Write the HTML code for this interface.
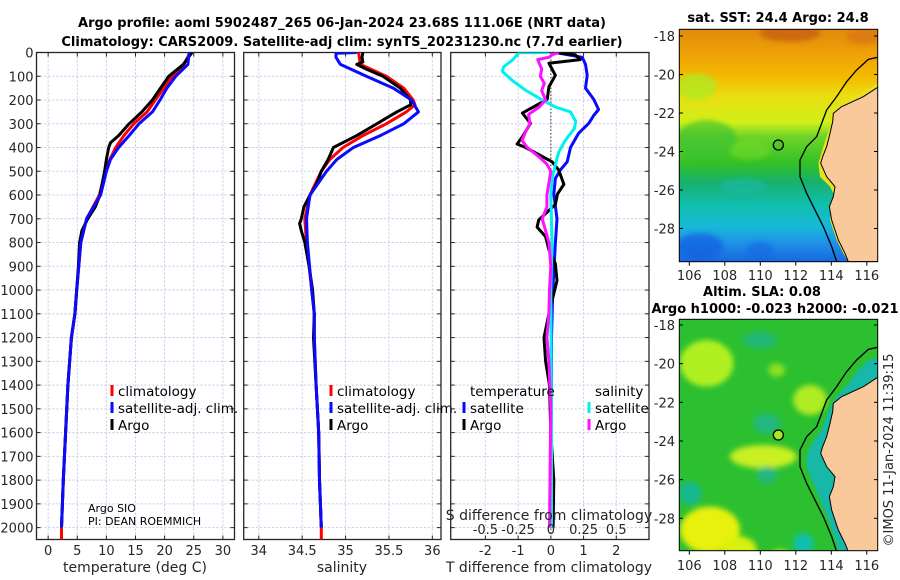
<!DOCTYPE html>
<html><head><meta charset="utf-8"><style>
html,body{margin:0;padding:0;background:#fff;}
svg{display:block;font-family:"DejaVu Sans","Liberation Sans",sans-serif;}
.tk{font-size:13px;fill:#262626;}
.ttl{font-size:13px;font-weight:bold;fill:#000;}
.lg{font-size:13.5px;fill:#000;}
</style></head><body>
<svg id="fig" width="900" height="580" viewBox="0 0 900 580">
<defs>
<clipPath id="c1"><rect x="36.5" y="52.5" width="198" height="487"/></clipPath>
<clipPath id="c2"><rect x="243.7" y="52.5" width="197.3" height="487"/></clipPath>
<clipPath id="c3"><rect x="450.7" y="52.5" width="198.3" height="487"/></clipPath>
<clipPath id="cm1"><rect x="679.3" y="29.3" width="198.4" height="232.4"/></clipPath>
<clipPath id="cm2"><rect x="679.3" y="319.3" width="198.4" height="231.4"/></clipPath>
<linearGradient id="sstg" x1="0" y1="0" x2="0" y2="1">
<stop offset="0" stop-color="#e08a0c"/><stop offset="0.1" stop-color="#eea008"/>
<stop offset="0.2" stop-color="#f4b800"/><stop offset="0.28" stop-color="#ecdc10"/>
<stop offset="0.4" stop-color="#d0f018"/><stop offset="0.46" stop-color="#70d428"/>
<stop offset="0.58" stop-color="#30c028"/><stop offset="0.66" stop-color="#18b070"/>
<stop offset="0.76" stop-color="#10c0b0"/><stop offset="0.85" stop-color="#18b8d8"/>
<stop offset="0.92" stop-color="#2090e8"/><stop offset="1" stop-color="#1868e0"/>
</linearGradient>
<filter id="blur"><feGaussianBlur stdDeviation="8"/></filter>
<filter id="blur2"><feGaussianBlur stdDeviation="6"/></filter>
</defs>

<text class="ttl" x="342" y="27" text-anchor="middle">Argo profile: aoml 5902487_265 06-Jan-2024 23.68S 111.06E (NRT data)</text>
<text class="ttl" x="342" y="46" text-anchor="middle">Climatology: CARS2009. Satellite-adj clim: synTS_20231230.nc (7.7d earlier)</text>

<g id="p1"></g>
<g id="p2"></g>
<g id="p3"></g>

<!-- Top map SST -->
<g>
<text class="ttl" x="778" y="22" text-anchor="middle">sat. SST: 24.4 Argo: 24.8</text>
<g clip-path="url(#cm1)">
<rect x="679.3" y="29.3" width="198.4" height="232.4" fill="url(#sstg)"/>
<g filter="url(#blur2)" transform="translate(650,0) scale(0.33333)">
<ellipse cx="420" cy="100" rx="90" ry="25" fill="#c86010" opacity="0.8"/>
<ellipse cx="640" cy="110" rx="50" ry="25" fill="#d87010" opacity="0.6"/>
<ellipse cx="140" cy="260" rx="60" ry="40" fill="#b0e820" opacity="0.8"/>
<ellipse cx="170" cy="420" rx="90" ry="60" fill="#38c030" opacity="0.6"/>
<ellipse cx="300" cy="450" rx="60" ry="30" fill="#70d828" opacity="0.6"/>
<ellipse cx="280" cy="560" rx="70" ry="25" fill="#18b8a0" opacity="0.7"/>
<ellipse cx="150" cy="740" rx="70" ry="40" fill="#1060e0" opacity="0.7"/>
<ellipse cx="330" cy="750" rx="40" ry="25" fill="#1068e0" opacity="0.6"/>
</g>
<g transform="translate(650,0) scale(0.33333)">
<path d="M683,250 L640,275 L590,300 L560,320 L545,345 L540,380 L520,440 L505,490 L510,530 L540,560 L555,590 L545,620 L540,660 L560,720 L580,760 L595,785 L700,785 L700,250 Z" fill="#e8e020"/>
<path d="M683,262 L640,290 L575,320 L550,340 L548,365 L540,400 L530,440 L518,470 L512,490 L530,530 L555,560 L550,590 L538,620 L545,660 L565,720 L585,760 L595,785 L700,785 L700,262 Z" fill="#f9c89b" stroke="#000" stroke-width="3"/>
<path d="M683,172 L655,178 L620,210 L590,245 L560,290 L530,330 L515,370 L500,410 L470,440 L450,480 L450,530 L470,580 L490,620 L520,680 L545,740 L560,785" fill="none" stroke="#000" stroke-width="4"/>
<circle cx="385" cy="435" r="15" fill="#50c828" stroke="#000" stroke-width="4"/>
</g>
</g>
<rect x="679.3" y="29.3" width="198.4" height="232.4" fill="none" stroke="#000" stroke-width="1"/>
<g id="m1ticks"></g>
</g>

<!-- Bottom map SLA -->
<g>
<text class="ttl" x="762" y="296" text-anchor="middle">Altim. SLA: 0.08</text>
<text class="ttl" x="775" y="313" text-anchor="middle">Argo h1000: -0.023 h2000: -0.021</text>
<g clip-path="url(#cm2)">
<rect x="679.3" y="319.3" width="198.4" height="231.4" fill="#2cc030"/>
<g filter="url(#blur)" transform="translate(650,290) scale(0.33333)">
<ellipse cx="170" cy="220" rx="80" ry="70" fill="#b0f020"/>
<ellipse cx="380" cy="240" rx="25" ry="20" fill="#90e020"/>
<ellipse cx="480" cy="330" rx="50" ry="45" fill="#b0ec20"/>
<ellipse cx="340" cy="500" rx="100" ry="35" fill="#c8f020"/>
<ellipse cx="180" cy="720" rx="90" ry="70" fill="#e8f010"/>
<ellipse cx="270" cy="780" rx="50" ry="40" fill="#d8f010"/>
<ellipse cx="390" cy="800" rx="30" ry="20" fill="#c8f020"/>
<ellipse cx="350" cy="400" rx="40" ry="30" fill="#20b880"/>
<ellipse cx="120" cy="610" rx="35" ry="35" fill="#18b890"/>
<ellipse cx="350" cy="555" rx="30" ry="25" fill="#20b880"/>
<ellipse cx="460" cy="760" rx="30" ry="30" fill="#10c0b0"/>
<ellipse cx="330" cy="150" rx="50" ry="25" fill="#20b878"/>
</g>
<g transform="translate(650,290) scale(0.33333)">
<path d="M683,205 L655,210 L625,240 L600,275 L570,310 L545,340 L530,380 L515,420 L490,455 L472,490 L470,530 L488,575 L505,615 L530,675 L552,735 L568,785 L700,785 L700,205 Z" fill="#18b8a8"/>
<path d="M683,262 L640,290 L575,320 L550,340 L548,365 L540,400 L530,440 L518,470 L512,490 L530,530 L555,560 L550,590 L538,620 L545,660 L565,720 L585,760 L595,785 L700,785 L700,262 Z" fill="#f9c89b" stroke="#000" stroke-width="3"/>
<path d="M683,172 L655,178 L620,210 L590,245 L560,290 L530,330 L515,370 L500,410 L470,440 L450,480 L450,530 L470,580 L490,620 L520,680 L545,740 L560,785" fill="none" stroke="#000" stroke-width="4"/>
<circle cx="385" cy="435" r="15" fill="#a8e820" stroke="#000" stroke-width="4"/>
</g>
</g>
<rect x="679.3" y="319.3" width="198.4" height="231.4" fill="none" stroke="#000" stroke-width="1"/>
<g id="m2ticks"></g>
</g>
<text class="tk" transform="translate(893,450) rotate(-90)" text-anchor="middle" style="font-size:13px">©IMOS 11-Jan-2024 11:39:15</text>

<text style="font-size:11px" x="88" y="512">Argo SIO</text>
<text style="font-size:11px" x="88" y="525">PI: DEAN ROEMMICH</text>
</svg>
<script>
// ---- Temperature panel data ----
const argoTDepth=[0,50,100,150,200,250,300,350,380,400,450,500,600,650,700,750,800,900,1000,1100,1200,1400,1600,1800,2000];
const argoT=[24.7,23.2,20.7,19.3,17.9,16.1,13.9,12.1,10.7,10.4,10.0,9.7,8.9,8.1,6.8,5.8,5.4,5.2,4.9,4.6,4.0,3.4,3.0,2.6,2.3];
const climTDepth=[0,50,100,200,250,300,350,400,450,500,600,700,800,1000,1100,1200,1400,1600,1800,2000,2050];
const climT=[24.4,23.3,21.3,18.4,17.0,14.7,13.0,11.6,10.6,9.8,8.8,6.6,5.6,4.9,4.6,4.0,3.4,3.0,2.6,2.3,2.3];
const satTDepth=[0,50,100,150,200,250,300,350,400,450,500,600,700,800,1000,1100,1200,1400,1600,1800,2000];
const satT=[24.2,24.0,21.9,20.4,19.2,17.9,15.6,13.9,12.1,10.7,10.0,9.0,6.6,5.6,4.9,4.6,4.0,3.4,3.0,2.6,2.3];
// ---- Salinity panel data ----
const argoSDepth=[0,20,40,50,70,100,150,200,220,250,300,350,400,450,500,550,600,650,700,720,750,800,900,1000,1100,1200,1400,1600,1800,2000];
const argoS=[35.20,35.19,35.20,35.13,35.24,35.43,35.63,35.75,35.75,35.59,35.36,35.13,34.86,34.80,34.72,34.67,34.59,34.52,34.49,34.47,34.49,34.53,34.58,34.62,34.64,34.63,34.66,34.69,34.70,34.72];
const climSDepth=[0,50,100,150,200,220,250,300,350,400,450,500,600,700,800,1000,1100,1200,1400,1600,1800,2000,2050];
const climS=[35.15,35.17,35.47,35.67,35.78,35.80,35.70,35.47,35.20,34.97,34.82,34.72,34.59,34.53,34.55,34.61,34.64,34.64,34.66,34.69,34.70,34.72,34.72];
const satSDepth=[0,3,20,50,100,150,200,250,300,350,400,450,500,600,700,800,1000,1100,1200,1400,1600,1800,2000];
const satS=[35.13,34.89,34.89,34.94,35.24,35.55,35.76,35.84,35.67,35.40,35.09,34.90,34.78,34.59,34.55,34.56,34.61,34.64,34.64,34.66,34.69,34.70,34.72];
// ---- Difference panel data ----
const argoDTDepth=[0,10,30,45,96,145,197,255,298,355,385,400,460,495,555,596,640,705,735,775,830,890,960,1015,1100,1200,1300,1400,1600,1800,2000];
const argoDT=[0.14,0.75,0.9,-0.06,0.14,-0.06,-0.11,-0.87,-0.62,-0.87,-1.03,-0.77,0.04,0.24,0.40,0.20,0.14,-0.37,-0.42,-0.16,-0.06,0.14,0.19,0.09,-0.06,-0.21,-0.16,-0.04,0.0,0.09,0.07];
const satDTDepth=[0,20,50,96,150,197,240,265,298,340,400,460,495,530,596,700,800,1000,1200,1600,2000];
const satDT=[0.14,0.96,1.06,1.11,1.06,1.31,1.46,1.31,1.16,0.85,0.60,0.50,0.29,0.14,0.09,0.19,0.14,0.06,0.02,0.02,0.02];
const satDSDepth=[0,1,30,60,80,120,160,200,230,250,290,320,370,420,470,530,600,800,1000,1500,2000];
const satDS=[-0.015,-0.244,-0.29,-0.36,-0.37,-0.29,-0.19,-0.066,0.036,0.15,0.19,0.18,0.11,0.06,0.036,0.01,0.0,0.01,0.0,0.005,0.005];
const argoDSDepth=[0,10,20,30,70,100,130,160,200,230,260,300,330,370,400,440,470,500,600,650,700,750,800,900,1000,1100,1200,1300,1500,2000];
const argoDS=[0.06,0.01,-0.015,-0.10,-0.07,-0.08,-0.05,-0.07,-0.04,-0.09,-0.17,-0.16,-0.19,-0.22,-0.18,-0.09,-0.03,0.0,-0.03,-0.03,-0.066,-0.04,-0.015,0.0,-0.01,-0.015,-0.03,-0.015,0.0,-0.01];
// ---- Ticks ----
const depthTicks=[0,100,200,300,400,500,600,700,800,900,1000,1100,1200,1300,1400,1500,1600,1700,1800,1900,2000];
const tTicks=[0,5,10,15,20,25,30];
const sTicks=[34,34.5,35,35.5,36];
const dTTicks=[-2,-1,0,1,2];
const dSTicks=[-0.5,-0.25,0,0.25,0.5];
const latTicks=[-18,-20,-22,-24,-26,-28];
const lonTicks=[106,108,110,112,114,116];

const NS='http://www.w3.org/2000/svg';
const svg=document.getElementById('fig');
function mk(tag,attrs,parent){const e=document.createElementNS(NS,tag);for(const k in attrs)e.setAttribute(k,attrs[k]);(parent||svg).appendChild(e);return e;}
const Y0=52.5,Y1=539.5;
const yD=d=>Y0+(d/2050)*(Y1-Y0);
function lin(d0,d1,r0,r1){return v=>r0+(v-d0)/(d1-d0)*(r1-r0);}

function panel(g,x0,x1,xs,ticks,fmt,showY){
  depthTicks.forEach(d=>{const l=mk('line',{x1:x0,x2:x1,y1:yD(d),y2:yD(d),stroke:'#c4c8e8','stroke-dasharray':'2,2','stroke-width':1},g);
    
    });
  ticks.forEach(t=>{const l=mk('line',{x1:xs(t),x2:xs(t),y1:Y0,y2:Y1,stroke:'#c4c8e8','stroke-dasharray':'2,2','stroke-width':1},g);
    
    });
  mk('rect',{x:x0,y:Y0,width:x1-x0,height:Y1-Y0,fill:'none',stroke:'#262626','stroke-width':1.3},g);
  depthTicks.forEach(d=>{mk('line',{x1:x0,x2:x0+4,y1:yD(d),y2:yD(d),stroke:'#262626'},g);mk('line',{x1:x1,x2:x1-4,y1:yD(d),y2:yD(d),stroke:'#262626'},g);
    if(showY){const t=mk('text',{x:x0-3,y:yD(d)+5,'text-anchor':'end',class:'tk'},g);t.textContent=d;
      
      }});
  ticks.forEach(v=>{mk('line',{x1:xs(v),x2:xs(v),y1:Y1,y2:Y1-4,stroke:'#262626'},g);mk('line',{x1:xs(v),x2:xs(v),y1:Y0,y2:Y0+4,stroke:'#262626'},g);
    const t=mk('text',{x:xs(v),y:555,'text-anchor':'middle',class:'tk'},g);t.textContent=fmt(v);
    
    });
}
function series(g,xs,depths,vals,color,name,clip){
  const pts=depths.map((d,i)=>xs(vals[i]).toFixed(1)+','+yD(d).toFixed(1)).join(' ');
  const p=mk('polyline',{points:pts,fill:'none',stroke:color,'stroke-width':3,'stroke-linejoin':'round','clip-path':'url(#'+clip+')'},g);
  
  
}
function legend(g,x,y,color,label,name){
  mk('line',{x1:x,x2:x,y1:y-7,y2:y+4,stroke:color,'stroke-width':3},g);
  const t=mk('text',{x:x+6,y:y+4,class:'lg'},g);t.textContent=label;
  
  
}
const g1=document.getElementById('p1');
const xT=lin(-2,32,36.5,234.5);
panel(g1,36.5,234.5,xT,tTicks,v=>v,true);
series(g1,xT,climTDepth,climT,'#ff0000','climatology-temperature-line','c1');
series(g1,xT,argoTDepth,argoT,'#000000','argo-temperature-line','c1');
series(g1,xT,satTDepth,satT,'#0a0aff','satellite-temperature-line','c1');
legend(g1,112,392,'#ff0000','climatology','legend-climatology');
legend(g1,112,409,'#0a0aff','satellite-adj. clim.','legend-satellite');
legend(g1,112,426,'#000','Argo','legend-argo');
let t=mk('text',{x:135,y:572,'text-anchor':'middle',class:'tk',style:'font-size:14px'},g1);t.textContent='temperature (deg C)';


const g2=document.getElementById('p2');
const xS=lin(33.826,36.1,243.7,441);
panel(g2,243.7,441,xS,sTicks,v=>v,false);
series(g2,xS,climSDepth,climS,'#ff0000','climatology-salinity-line','c2');
series(g2,xS,argoSDepth,argoS,'#000000','argo-salinity-line','c2');
series(g2,xS,satSDepth,satS,'#0a0aff','satellite-salinity-line','c2');
legend(g2,331,392,'#ff0000','climatology','legend-climatology');
legend(g2,331,409,'#0a0aff','satellite-adj. clim.','legend-satellite');
legend(g2,331,426,'#000','Argo','legend-argo');
t=mk('text',{x:342,y:572,'text-anchor':'middle',class:'tk',style:'font-size:14px'},g2);t.textContent='salinity';


const g3=document.getElementById('p3');
const xDT=lin(-3.06,3,450.7,649);
const xDS=lin(-0.765,0.75,450.7,649);
panel(g3,450.7,649,xDT,dTTicks,v=>v,false);
mk('line',{x1:xDT(0),x2:xDT(0),y1:Y0,y2:Y1,stroke:'#555','stroke-dasharray':'1.5,2','stroke-width':1.2},g3);
series(g3,xDT,satDTDepth,satDT,'#0a0aff','satellite-temperature-difference-line','c3');
series(g3,xDT,argoDTDepth,argoDT,'#000000','argo-temperature-difference-line','c3');
series(g3,xDS,satDSDepth,satDS,'#00f0f0','satellite-salinity-difference-line','c3');
series(g3,xDS,argoDSDepth,argoDS,'#ff10ff','argo-salinity-difference-line','c3');
t=mk('text',{x:470,y:396,class:'lg'},g3);t.textContent='temperature';


t=mk('text',{x:595,y:396,class:'lg'},g3);t.textContent='salinity';


legend(g3,464,409,'#0a0aff','satellite','legend-temperature-satellite');
legend(g3,464,426,'#000','Argo','legend-temperature-argo');
legend(g3,589,409,'#00f0f0','satellite','legend-salinity-satellite');
legend(g3,589,426,'#ff10ff','Argo','legend-salinity-argo');
t=mk('text',{x:549,y:520,'text-anchor':'middle',class:'tk',style:'font-size:14px'},g3);t.textContent='S difference from climatology';


dSTicks.forEach(v=>{const e=mk('text',{x:xDS(v),y:534,'text-anchor':'middle',class:'tk'},g3);e.textContent=v;
  
  });
t=mk('text',{x:549,y:572,'text-anchor':'middle',class:'tk',style:'font-size:14px'},g3);t.textContent='T difference from climatology';


function mapTicks(gid,top,lat0y,ppdLat,labY){
  const g=document.getElementById(gid);
  const xL=lon=>689.3+(lon-106)*17.75;
  latTicks.forEach(la=>{const y=lat0y+(-18-la)*ppdLat;
    mk('line',{x1:679.3,x2:683,y1:y,y2:y,stroke:'#000'},g);mk('line',{x1:877.7,x2:874,y1:y,y2:y,stroke:'#000'},g);
    const e=mk('text',{x:675,y:y+5,'text-anchor':'end',class:'tk'},g);e.textContent=la;
    
    });
  lonTicks.forEach(lo=>{const x=xL(lo);
    mk('line',{x1:x,x2:x,y1:top,y2:top+4,stroke:'#000'},g);
    const e=mk('text',{x:x,y:labY,'text-anchor':'middle',class:'tk'},g);e.textContent=lo;
    
    });
}
mapTicks('m1ticks',261.7,36,19.25,280);
mapTicks('m2ticks',550.7,325,19.33,570);
</script>
</body></html>
